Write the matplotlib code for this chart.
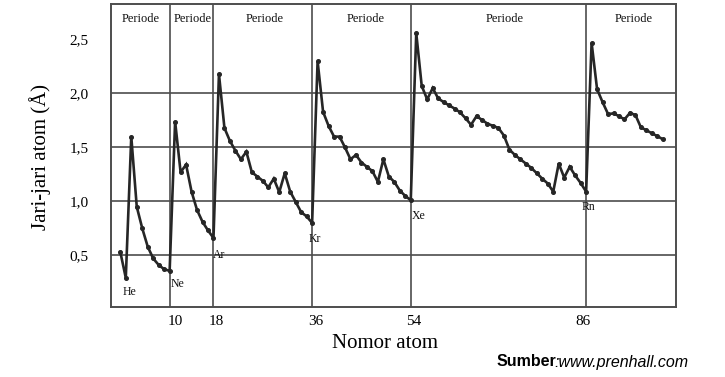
import numpy as np
import matplotlib
matplotlib.use("Agg")
import matplotlib.pyplot as plt
from matplotlib import font_manager
from matplotlib.transforms import ScaledTranslation

# ---- data -------------------------------------------------------------
atomic_radius = [
    0.53, 0.29,                                                  # 1-2
    1.60, 0.95, 0.75, 0.58, 0.47, 0.41, 0.37, 0.355,             # 3-10
    1.74, 1.27, 1.34, 1.09, 0.92, 0.81, 0.73, 0.66,              # 11-18
    2.18, 1.68, 1.56, 1.47, 1.39, 1.46, 1.27, 1.23, 1.19,        # 19-27
    1.13, 1.21, 1.085, 1.26, 1.09, 0.995, 0.90, 0.86, 0.80,      # 28-36
    2.30, 1.83, 1.70, 1.60, 1.60, 1.50, 1.39, 1.43, 1.36,        # 37-45
    1.32, 1.28, 1.18, 1.39, 1.23, 1.18, 1.10, 1.05, 1.01,        # 46-54
    2.56, 2.07, 1.945, 2.05, 1.955, 1.92, 1.89, 1.86, 1.825,     # 55-63
    1.77, 1.71, 1.79, 1.755, 1.72, 1.70, 1.68, 1.61, 1.48,       # 64-72
    1.43, 1.39, 1.35, 1.31, 1.26, 1.21, 1.165, 1.09, 1.35,       # 73-81
    1.22, 1.32, 1.24, 1.17, 1.09,                                # 82-86
    2.47, 2.04, 1.92, 1.81, 1.815, 1.79, 1.76, 1.82, 1.80,       # 87-95
    1.685, 1.66, 1.63, 1.605, 1.575,                             # 96-100
]
atomic_number = np.arange(1, len(atomic_radius) + 1)

noble_gas_numbers = [10, 18, 36, 54, 86]
x_tick_labels = ["10", "18", "36", "54", "86"]
y_ticks = [0.5, 1.0, 1.5, 2.0, 2.5]
y_tick_labels = ["0,5", "1,0", "1,5", "2,0", "2,5"]
y_grid = [0.5, 1.0, 1.5, 2.0]

element_labels = ["He", "Ne", "Ar", "Kr", "Xe", "Rn"]
element_label_x = [2.75, 11.4, 19.1, 36.5, 55.4, 86.5]
element_label_y = [0.16, 0.23, 0.50, 0.65, 0.86, 0.95]

period_labels = ["Periode"] * 6
period_label_x = [4.8, 14.25, 27.4, 45.8, 71.2, 94.6]
period_label_y = 2.69

# ---- fonts ------------------------------------------------------------
serif = ["Liberation Serif", "DejaVu Serif"]
names = {f.name for f in font_manager.fontManager.ttflist}
narrow = "Liberation Sans Narrow" if "Liberation Sans Narrow" in names else "Liberation Sans"

# ---- figure -----------------------------------------------------------
W, H = 725, 377
fig = plt.figure(figsize=(W / 100, H / 100), dpi=100)
ax = fig.add_axes([111 / W, 1 - 307 / H, (676 - 111) / W, (307 - 4) / H])

grid_color = "#4d4d4d"
for y in y_grid:
    ax.axhline(y, color=grid_color, lw=1.2, zorder=1)
for x in noble_gas_numbers:
    ax.axvline(x, color=grid_color, lw=1.2, zorder=1)

ax.plot(atomic_number, atomic_radius, color="#262626", lw=1.9,
        marker="o", markersize=2.6, zorder=3, solid_joinstyle="miter")

ax.set_xlim(-0.7, 102.4)
ax.set_ylim(0.02, 2.83)

for s in ax.spines.values():
    s.set_color(grid_color)
    s.set_linewidth(1.4)

ax.set_xticks(noble_gas_numbers)
ax.set_xticklabels(x_tick_labels, fontfamily=serif, fontsize=11)
ax.set_yticks(y_ticks)
ax.set_yticklabels(y_tick_labels, fontfamily=serif, fontsize=11)
ax.tick_params(axis="x", length=0, pad=6)
ax.tick_params(axis="y", length=0, pad=16)

# small horizontal nudges of x tick labels (pixels), as in the reference
for lbl, dx in zip(ax.get_xticklabels(), [6, 3, 4, 3, -3]):
    lbl.set_transform(lbl.get_transform() + ScaledTranslation(dx / 100, 0, fig.dpi_scale_trans))

for lab, x, y in zip(element_labels, element_label_x, element_label_y):
    ax.text(x, y, lab, ha="center", va="center", fontsize=8.5,
            fontfamily=serif, color="#111111", zorder=4)

for lab, x in zip(period_labels, period_label_x):
    ax.text(x, period_label_y, lab, ha="center", va="center", fontsize=9,
            fontfamily=serif, color="#111111")

fig.text(385 / W, 1 - 343 / H, "Nomor atom", ha="center", va="center",
         fontsize=15, fontfamily=serif)
fig.text(40 / W, 1 - 157 / H, "Jari-jari atom (Å)", ha="center", va="center",
         rotation=90, fontsize=15, fontfamily=serif)

t1 = fig.text(497 / W, 1 - 366.5 / H, "Sumber", ha="left", va="baseline",
              fontsize=11.5, fontweight="bold", fontfamily=[narrow, "DejaVu Sans"])
fig.canvas.draw()
ax.annotate(":www.prenhall.com", xy=(1, 0), xycoords=t1, xytext=(-1.5, 0),
            textcoords="offset points", ha="left", va="bottom",
            fontsize=11.5, fontstyle="italic", fontfamily=[narrow, "DejaVu Sans"],
            annotation_clip=False)

fig.savefig("out.png", dpi=100)
